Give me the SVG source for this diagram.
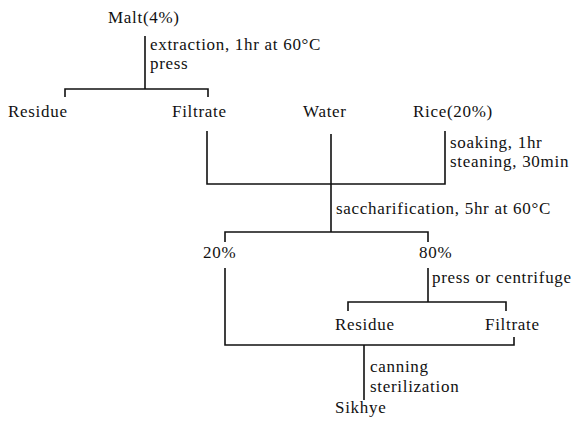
<svg xmlns="http://www.w3.org/2000/svg" width="588" height="425" viewBox="0 0 588 425">
<style>
text{font-family:"Liberation Serif","Times New Roman",serif;font-size:17px;letter-spacing:0.7px;fill:#111}
.c{fill:none;stroke:#111;stroke-width:1.6}
</style>
<rect width="588" height="425" fill="#fff"/>
<g id="connectors">
<path class="c" d="M145,36V89M65,97V89H208V97"/>
<path class="c" d="M207,131V184H445V131M331,134V232"/>
<path class="c" d="M225,242V232H428V242"/>
<path class="c" d="M225,268V345H514V337M428,268V302M348,311V302H506V311M364,345V400"/>
</g>
<g id="malt"><text x="108" y="23">Malt(4%)</text></g>
<g id="step1"><text x="150" y="50">extraction, 1hr at 60°C</text><text x="150" y="69">press</text></g>
<g id="residue1"><text x="8" y="117">Residue</text></g>
<g id="filtrate1"><text x="172" y="117">Filtrate</text></g>
<g id="water"><text x="303" y="117">Water</text></g>
<g id="rice"><text x="413" y="117">Rice(20%)</text></g>
<g id="step2"><text x="450" y="148">soaking, 1hr</text><text x="450" y="167">steaning, 30min</text></g>
<g id="step3"><text x="336" y="214">saccharification, 5hr at 60°C</text></g>
<g id="p20"><text x="203" y="258">20%</text></g>
<g id="p80"><text x="419" y="258">80%</text></g>
<g id="step4"><text x="432" y="283" letter-spacing="1.1">press or centrifuge</text></g>
<g id="residue2"><text x="335" y="330">Residue</text></g>
<g id="filtrate2"><text x="485" y="330">Filtrate</text></g>
<g id="step5"><text x="370" y="372">canning</text><text x="370" y="392">sterilization</text></g>
<g id="sikhye"><text x="335" y="413">Sikhye</text></g>
</svg>
